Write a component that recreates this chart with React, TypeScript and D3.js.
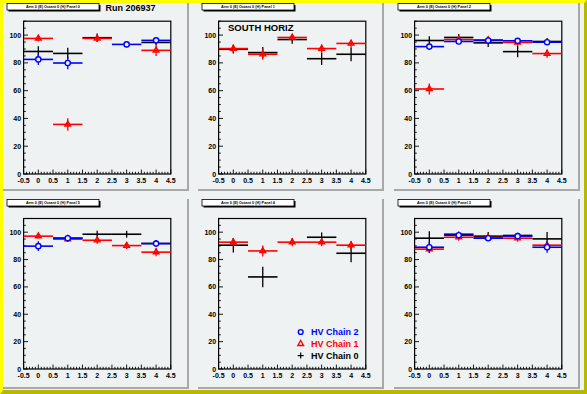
import { useEffect, useRef } from "react";
import * as d3 from "d3";

// panel titles
const panelTitles = [
  "Arm 0 (E) Octant 0 (H) Panel 0",
  "Arm 0 (E) Octant 0 (H) Panel 1",
  "Arm 0 (E) Octant 0 (H) Panel 2",
  "Arm 0 (E) Octant 0 (H) Panel 5",
  "Arm 0 (E) Octant 0 (H) Panel 4",
  "Arm 0 (E) Octant 0 (H) Panel 3",
];

const bins = [0, 1, 2, 3, 4];

// efficiency (%) per panel, per HV chain; null = no entry
const chain0 = [
  [88.2, 86.8, 98.1, null, 94.7],
  [89.8, 87.4, 96.8, 83.0, 86.2],
  [96.1, 98.3, 94.4, 88.1, 95.4],
  [null, 95.6, 98.5, 98.5, 91.7],
  [90.5, 67.3, null, 96.3, 84.6],
  [95.6, 98.5, 97.1, 97.6, 95.1],
];
const chain0Err = [
  [3.8, 4, 3, 0, 2],
  [3, 4, 3, 4.5, 5],
  [3, 2.5, 3, 4, 2.5],
  [0, 2, 2.5, 2.5, 2.5],
  [5.3, 7.5, 0, 3.5, 6.5],
  [5, 2, 3, 2, 5],
];
const chain1 = [
  [97.6, 35.7, 97.6, null, 89.0],
  [90.3, 86.2, 98.3, 90.3, 94.0],
  [61.2, 96.8, 96.6, 94.7, 86.7],
  [97.1, 94.9, 94.1, 90.2, 85.4],
  [92.7, 86.3, 92.7, 92.7, 90.5],
  [87.6, 96.3, 96.1, 95.6, 90.5],
];
const chain1Err = [
  [2, 4.5, 2.5, 0, 4],
  [3, 4, 2, 3, 2.5],
  [4, 2, 2, 2.5, 3],
  [1.5, 1.5, 2.5, 2.5, 3],
  [3, 4, 3, 3, 3],
  [3, 2.5, 2.5, 2.5, 3],
];
const chain2 = [
  [82.5, 79.9, null, 93.3, 96.2],
  [null, null, null, null, null],
  [91.7, 95.4, 96.1, 95.9, 94.9],
  [89.8, 95.6, null, null, 91.7],
  [null, null, null, null, null],
  [89.0, 97.8, 95.6, 97.1, 89.0],
];
const chain2Err = [
  [4, 4.5, 0, 2, 2],
  [0, 0, 0, 0, 0],
  [2.5, 2, 2, 2, 2],
  [3.5, 2.5, 0, 0, 2.5],
  [0, 0, 0, 0, 0],
  [4, 2, 2, 2, 4],
];

const xTicks = [-0.5, 0, 0.5, 1, 1.5, 2, 2.5, 3, 3.5, 4, 4.5];
const yTicks = [0, 20, 40, 60, 80, 100];
const legendLabels = ["HV Chain 2", "HV Chain 1", "HV Chain 0"];

const BG = "#eef2f2";
const FONT = "'Liberation Sans', Arial, Helvetica, sans-serif";

export default function App() {
  const ref = useRef<SVGSVGElement>(null);

  useEffect(() => {
    if (!ref.current) return;
    const svg = d3.select(ref.current);
    svg.selectAll("*").remove();

    const W = 587;
    const H = 394;

    // canvas bevel
    svg.append("rect").attr("width", W).attr("height", H).attr("fill", "#ffff00");
    svg
      .append("polygon")
      .attr("points", `${W},0 ${W},${H} 0,${H} 3,${H - 4} ${W - 3},${H - 4} ${W - 3},3`)
      .attr("fill", "#b8b800");
    svg
      .append("rect")
      .attr("x", 3)
      .attr("y", 3)
      .attr("width", W - 6)
      .attr("height", H - 7)
      .attr("fill", BG);

    const padX = [3, 198, 394];
    const padY = [3, 199];
    const padW = 186;
    const padH = [188, 190];
    const frameTop = [21.2, 218.5];
    const frameBot = [174, 369];

    const series = [
      { vals: chain0, errs: chain0Err, color: "#000000", kind: "plus" },
      { vals: chain1, errs: chain1Err, color: "#ff0000", kind: "tri" },
      { vals: chain2, errs: chain2Err, color: "#0000ff", kind: "circle" },
    ];

    panelTitles.forEach((title, p) => {
      const col = p % 3;
      const row = Math.floor(p / 3);
      const px = padX[col];
      const py = padY[row];
      const ph = padH[row];

      const pad = svg.append("g");
      pad.append("rect").attr("x", px).attr("y", py).attr("width", padW).attr("height", ph).attr("fill", BG);
      // pad shadow
      pad.append("rect").attr("x", px + padW - 2).attr("y", py).attr("width", 2).attr("height", ph).attr("fill", "#a8a8a8");
      pad.append("rect").attr("x", px).attr("y", py + ph - 2).attr("width", padW).attr("height", 2).attr("fill", "#a8a8a8");

      const fx0 = px + 20.6;
      const fx1 = fx0 + 147.2;
      const x = d3.scaleLinear().domain([-0.5, 4.5]).range([fx0, fx1]);
      const y = d3.scaleLinear().domain([0, 110]).range([frameBot[row], frameTop[row]]);

      // frame
      pad
        .append("rect")
        .attr("x", fx0)
        .attr("y", y(110))
        .attr("width", fx1 - fx0)
        .attr("height", y(0) - y(110))
        .attr("fill", BG)
        .attr("stroke", "#000")
        .attr("stroke-width", 1.2);

      // x ticks
      d3.range(-0.5, 4.501, 0.1).forEach((v, i) => {
        const major = i % 5 === 0;
        pad
          .append("line")
          .attr("x1", x(v))
          .attr("x2", x(v))
          .attr("y1", y(0))
          .attr("y2", y(0) - (major ? 4.4 : 2.2))
          .attr("stroke", "#000")
          .attr("stroke-width", 0.9);
      });
      xTicks.forEach((v) => {
        pad
          .append("text")
          .attr("x", x(v))
          .attr("y", y(0) + 6.5)
          .attr("text-anchor", "middle")
          .attr("dominant-baseline", "central")
          .attr("font-family", FONT)
          .attr("font-weight", "bold")
          .attr("font-size", 7)
          .text(String(v));
      });

      // y ticks
      d3.range(0, 110.01, 5).forEach((v) => {
        const major = v % 20 === 0;
        pad
          .append("line")
          .attr("x1", fx0)
          .attr("x2", fx0 + (major ? 4.4 : 2.2))
          .attr("y1", y(v))
          .attr("y2", y(v))
          .attr("stroke", "#000")
          .attr("stroke-width", 0.9);
      });
      yTicks.forEach((v) => {
        pad
          .append("text")
          .attr("x", fx0 - 2.5)
          .attr("y", y(v))
          .attr("text-anchor", "end")
          .attr("dominant-baseline", "central")
          .attr("font-family", FONT)
          .attr("font-weight", "bold")
          .attr("font-size", 7)
          .text(String(v));
      });

      // title box
      const tx = px + 4;
      const ty = py + 0.5;
      pad.append("rect").attr("x", tx + 1.5).attr("y", ty + 1.5).attr("width", 92).attr("height", 6.5).attr("fill", "#000");
      pad
        .append("rect")
        .attr("x", tx)
        .attr("y", ty)
        .attr("width", 92)
        .attr("height", 6.5)
        .attr("fill", "#fff")
        .attr("stroke", "#000")
        .attr("stroke-width", 0.8);
      pad
        .append("text")
        .attr("x", tx + 46)
        .attr("y", ty + 3.4)
        .attr("text-anchor", "middle")
        .attr("dominant-baseline", "central")
        .attr("font-family", FONT)
        .attr("font-weight", "bold")
        .attr("font-size", 3.8)
        .text(title);

      // data
      series.forEach((s) => {
        bins.forEach((b, i) => {
          const v = s.vals[p][i];
          if (v == null) return;
          const e = s.errs[p][i];
          pad
            .append("line")
            .attr("x1", x(b - 0.5))
            .attr("x2", x(b + 0.5))
            .attr("y1", y(v))
            .attr("y2", y(v))
            .attr("stroke", s.color)
            .attr("stroke-width", 1.6);
          pad
            .append("line")
            .attr("x1", x(b))
            .attr("x2", x(b))
            .attr("y1", y(v - e))
            .attr("y2", y(v + e))
            .attr("stroke", s.color)
            .attr("stroke-width", 1.3);
          if (s.kind === "circle") {
            pad
              .append("circle")
              .attr("cx", x(b))
              .attr("cy", y(v))
              .attr("r", 2.6)
              .attr("fill", BG)
              .attr("stroke", s.color)
              .attr("stroke-width", 1.4);
          } else if (s.kind === "tri") {
            pad
              .append("path")
              .attr("d", d3.symbol(d3.symbolTriangle, 14)()!)
              .attr("transform", `translate(${x(b)},${y(v)})`)
              .attr("fill", "none")
              .attr("stroke", s.color)
              .attr("stroke-width", 1.4);
          }
        });
      });

      if (p === 0) {
        pad
          .append("text")
          .attr("x", 130.5)
          .attr("y", 8)
          .attr("text-anchor", "middle")
          .attr("dominant-baseline", "central")
          .attr("font-family", FONT)
          .attr("font-weight", "bold")
          .attr("font-size", 9)
          .text("Run 206937");
      }
      if (p === 1) {
        pad
          .append("text")
          .attr("x", 228)
          .attr("y", 27.5)
          .attr("dominant-baseline", "central")
          .attr("font-family", FONT)
          .attr("font-weight", "bold")
          .attr("font-size", 9.5)
          .text("SOUTH HORIZ");
      }
      if (p === 4) {
        const colors = ["#0000ff", "#ff0000", "#000000"];
        legendLabels.forEach((lab, i) => {
          const ly = 332 + i * 11.8;
          const lx = 300.7;
          if (i === 0) {
            pad.append("circle").attr("cx", lx).attr("cy", ly).attr("r", 2.4).attr("fill", "none").attr("stroke", colors[i]).attr("stroke-width", 1.4);
          } else if (i === 1) {
            pad
              .append("path")
              .attr("d", d3.symbol(d3.symbolTriangle, 14)()!)
              .attr("transform", `translate(${lx},${ly})`)
              .attr("fill", "none")
              .attr("stroke", colors[i])
              .attr("stroke-width", 1.4);
          } else {
            pad.append("line").attr("x1", lx - 3).attr("x2", lx + 3).attr("y1", ly).attr("y2", ly).attr("stroke", "#000").attr("stroke-width", 1.2);
            pad.append("line").attr("x1", lx).attr("x2", lx).attr("y1", ly - 3).attr("y2", ly + 3).attr("stroke", "#000").attr("stroke-width", 1.2);
          }
          pad
            .append("text")
            .attr("x", 311)
            .attr("y", ly)
            .attr("dominant-baseline", "central")
            .attr("font-family", FONT)
            .attr("font-weight", "bold")
            .attr("font-size", 9)
            .attr("fill", colors[i])
            .text(lab);
        });
      }
    });
  }, []);

  return (
    <svg
      ref={ref}
      width={587}
      height={394}
      style={{ position: "fixed", left: 0, top: 0, display: "block" }}
    />
  );
}
